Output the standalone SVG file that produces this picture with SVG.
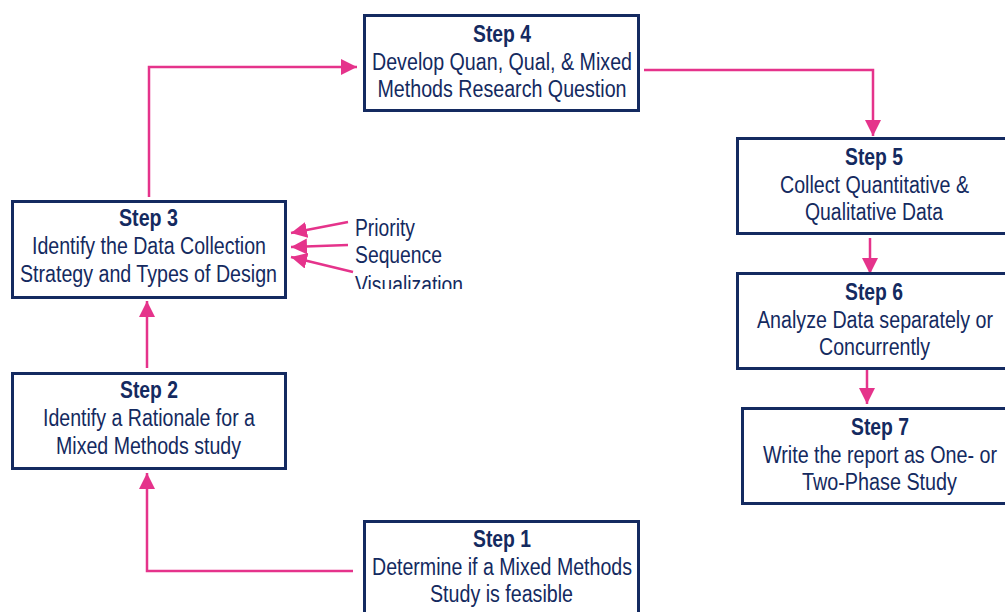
<svg xmlns="http://www.w3.org/2000/svg" width="1005" height="612" viewBox="0 0 1005 612">
<defs>
<style>
.box{fill:#fff;stroke:#142a60;stroke-width:3}
.t{font-family:"Liberation Sans Narrow","Liberation Sans",Arial,sans-serif;font-size:23.5px;fill:#142a60;text-anchor:middle}
.b{font-weight:bold}
.l{font-family:"Liberation Sans Narrow","Liberation Sans",Arial,sans-serif;font-size:23.5px;fill:#142a60}
.c{fill:none;stroke:#e5338b;stroke-width:2.5}
</style>
<marker id="ah" markerUnits="userSpaceOnUse" markerWidth="18" markerHeight="16" refX="16" refY="8" orient="auto">
<path d="M0,0 L16,8 L0,16 Z" fill="#e5338b"/>
</marker>
<clipPath id="clipL"><rect x="340" y="200" width="200" height="89"/></clipPath>
</defs>
<rect width="1005" height="612" fill="#fff"/>
<g id="connectors">
<path class="c" d="M353 571 H147 V473" marker-end="url(#ah)"/>
<path class="c" d="M147 368 V301" marker-end="url(#ah)"/>
<path class="c" d="M149 197 V67 H357" marker-end="url(#ah)"/>
<path class="c" d="M644 70 H873 V136" marker-end="url(#ah)"/>
<path class="c" d="M870 238 V274" marker-end="url(#ah)"/>
<path class="c" d="M867 367 V404" marker-end="url(#ah)"/>
<path class="c" d="M348 222 L291 233" marker-end="url(#ah)"/>
<path class="c" d="M348 245 L291 247" marker-end="url(#ah)"/>
<path class="c" d="M353 272 L291 257" marker-end="url(#ah)"/>
</g>
<g id="step4">
<rect class="box" x="364.5" y="15.5" width="274" height="95"/>
<text class="t b" x="502" y="42" textLength="58" lengthAdjust="spacingAndGlyphs">Step 4</text>
<text class="t" x="502" y="70" textLength="260" lengthAdjust="spacingAndGlyphs">Develop Quan, Qual, &amp; Mixed</text>
<text class="t" x="502" y="97" textLength="249" lengthAdjust="spacingAndGlyphs">Methods Research Question</text>
</g>
<g id="step3">
<rect class="box" x="12.5" y="201.5" width="273" height="96"/>
<text class="t b" x="148.5" y="226" textLength="59" lengthAdjust="spacingAndGlyphs">Step 3</text>
<text class="t" x="149" y="254" textLength="234" lengthAdjust="spacingAndGlyphs">Identify the Data Collection</text>
<text class="t" x="148.5" y="282" textLength="257" lengthAdjust="spacingAndGlyphs">Strategy and Types of Design</text>
</g>
<g id="labels" clip-path="url(#clipL)">
<text class="l" x="355" y="236" textLength="60" lengthAdjust="spacingAndGlyphs">Priority</text>
<text class="l" x="355" y="263" textLength="87" lengthAdjust="spacingAndGlyphs">Sequence</text>
<text class="l" x="355" y="293" textLength="108" lengthAdjust="spacingAndGlyphs">Visualization</text>
</g>
<g id="step2">
<rect class="box" x="12.5" y="373.5" width="273" height="95"/>
<text class="t b" x="149" y="398" textLength="58" lengthAdjust="spacingAndGlyphs">Step 2</text>
<text class="t" x="149" y="426" textLength="212" lengthAdjust="spacingAndGlyphs">Identify a Rationale for a</text>
<text class="t" x="148.5" y="454" textLength="185" lengthAdjust="spacingAndGlyphs">Mixed Methods study</text>
</g>
<g id="step1">
<rect class="box" x="364.5" y="521.5" width="274" height="96"/>
<text class="t b" x="502" y="547" textLength="58" lengthAdjust="spacingAndGlyphs">Step 1</text>
<text class="t" x="502" y="575" textLength="260" lengthAdjust="spacingAndGlyphs">Determine if a Mixed Methods</text>
<text class="t" x="501.5" y="602" textLength="143" lengthAdjust="spacingAndGlyphs">Study is feasible</text>
</g>
<g id="step5">
<rect class="box" x="737.5" y="138.5" width="274" height="95"/>
<text class="t b" x="874" y="165" textLength="58" lengthAdjust="spacingAndGlyphs">Step 5</text>
<text class="t" x="874.5" y="193" textLength="189" lengthAdjust="spacingAndGlyphs">Collect Quantitative &amp;</text>
<text class="t" x="874" y="220" textLength="138" lengthAdjust="spacingAndGlyphs">Qualitative Data</text>
</g>
<g id="step6">
<rect class="box" x="737.5" y="273.5" width="274" height="95"/>
<text class="t b" x="874" y="300" textLength="58" lengthAdjust="spacingAndGlyphs">Step 6</text>
<text class="t" x="875" y="328" textLength="236" lengthAdjust="spacingAndGlyphs">Analyze Data separately or</text>
<text class="t" x="874.5" y="355" textLength="111" lengthAdjust="spacingAndGlyphs">Concurrently</text>
</g>
<g id="step7">
<rect class="box" x="742.5" y="408.5" width="276" height="95"/>
<text class="t b" x="880" y="435" textLength="58" lengthAdjust="spacingAndGlyphs">Step 7</text>
<text class="t" x="880" y="463" textLength="234" lengthAdjust="spacingAndGlyphs">Write the report as One- or</text>
<text class="t" x="879.5" y="490" textLength="155" lengthAdjust="spacingAndGlyphs">Two-Phase Study</text>
</g>
</svg>
